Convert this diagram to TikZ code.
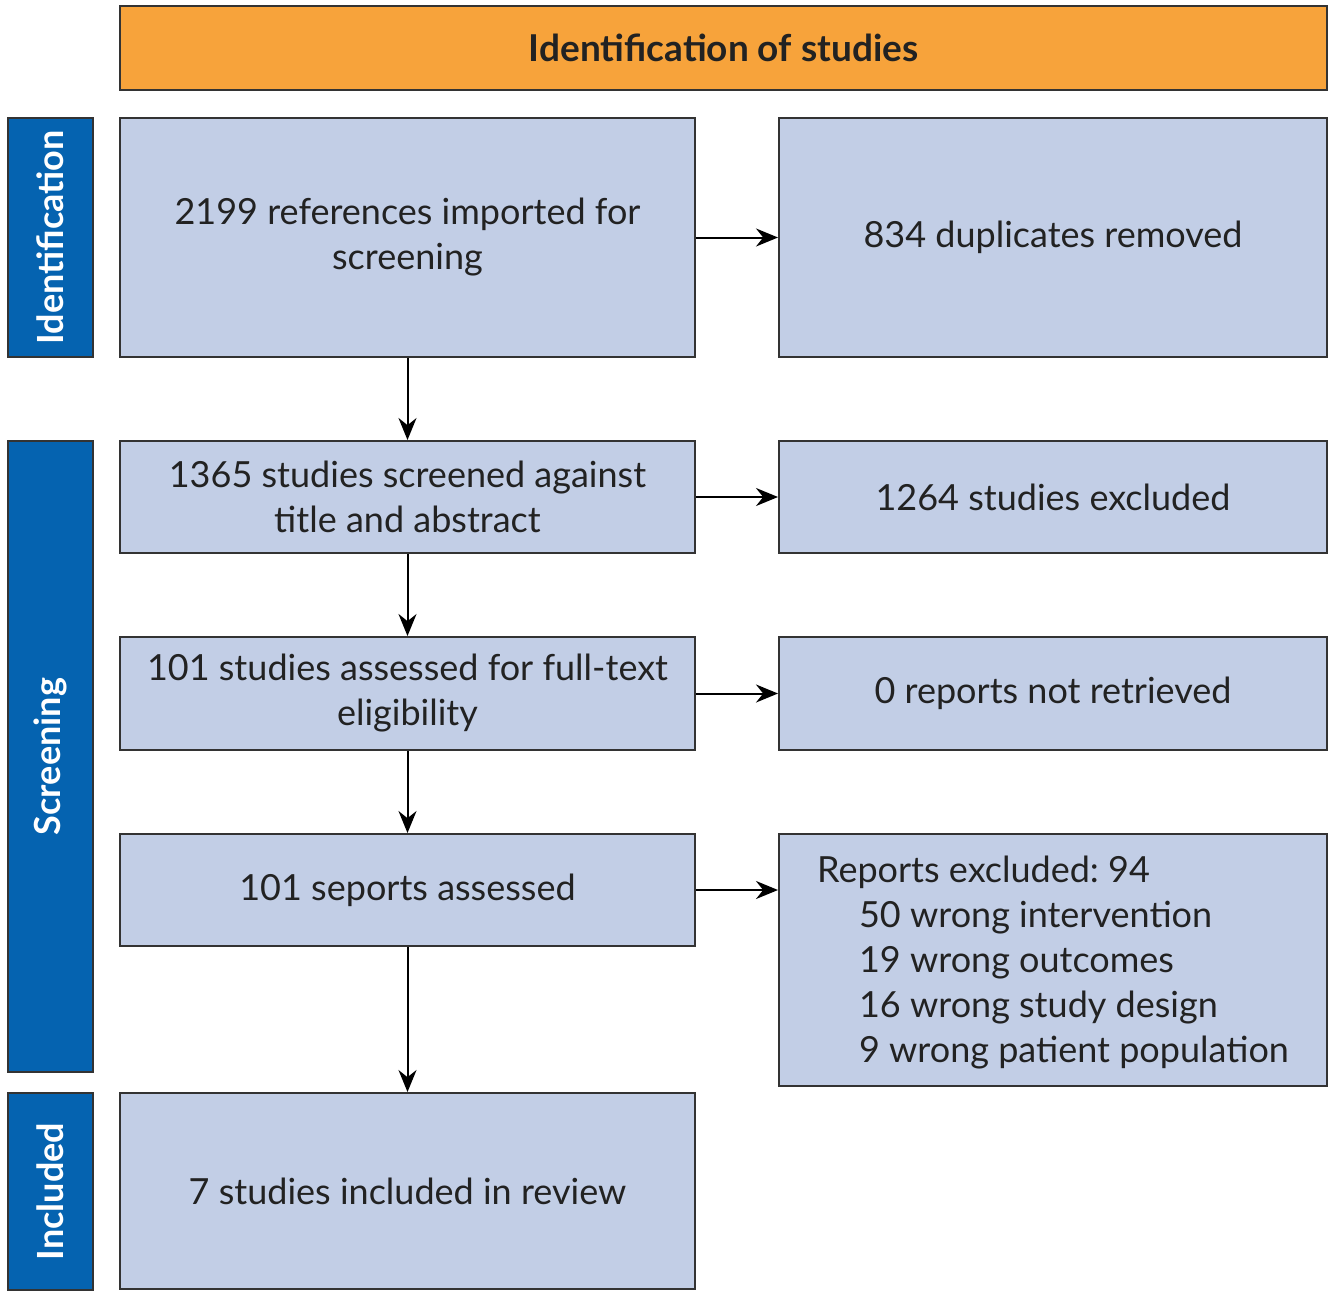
\documentclass[tikz,border=0pt]{standalone}
\usepackage{fontspec}
\setmainfont{Lato}
\usetikzlibrary{arrows.meta}
\frenchspacing
\definecolor{headorange}{HTML}{F7A33B}
\definecolor{sideblue}{HTML}{0563B0}
\definecolor{boxblue}{HTML}{C2CEE6}
\definecolor{edgegray}{HTML}{333333}
\definecolor{textgray}{HTML}{222222}
\begin{document}
\begin{tikzpicture}[x=0.5pt, y=-0.5pt, line width=1pt,
  box/.style={rectangle,draw=edgegray,fill=boxblue,text=textgray,align=center,inner sep=0pt,
    font=\fontsize{18}{22.5}\selectfont},
  side/.style={rectangle,draw=edgegray,fill=sideblue,text=white,rotate=90,inner sep=0pt,
    font=\fontsize{18}{20}\selectfont\bfseries},
  head/.style={rectangle,draw=edgegray,fill=headorange,text=textgray,inner sep=0pt,
    font=\fontsize{18.5}{20}\selectfont\bfseries},
  flow/.style={-{Stealth[length=11pt,width=9pt]},black}]
\useasboundingbox (0,0) rectangle (1337,1290);

\node [head, minimum width=603.5pt, minimum height=42pt] (top) at (723.5,48) {Identification of studies};

\node [side, minimum width=119.5pt, minimum height=42.5pt] (sid) at (50.5,237.5) {Identification};
\node [side, minimum width=315.5pt, minimum height=42.5pt] (sscr) at (50.5,756.5) {Screening};
\node [side, minimum width=98.5pt, minimum height=42.5pt] (sinc) at (50.5,1191.5) {Included};

\node [box, minimum width=287.5pt, minimum height=119.5pt] (imported) at (407.5,237.5) {2199 references imported for\\screening};
\node [box, minimum width=274pt, minimum height=119.5pt] (dupl) at (1053,237.5) {834 duplicates removed};
\node [box, minimum width=287.5pt, minimum height=56pt] (screened) at (407.5,497) {1365 studies screened against\\title and abstract};
\node [box, minimum width=274pt, minimum height=56pt] (excl) at (1053,497) {1264 studies excluded};
\node [box, minimum width=287.5pt, minimum height=56.5pt] (fulltext) at (407.5,693.5) {101 studies assessed for full-text\\eligibility};
\node [box, minimum width=274pt, minimum height=56.5pt] (notretr) at (1053,693.5) {0 reports not retrieved};
\node [box, minimum width=287.5pt, minimum height=56pt] (assessed) at (407.5,890) {101 seports assessed};
\node [box, minimum width=274pt, minimum height=126pt, align=left] (reasons) at (1053,960)
  {\rule{0pt}{15.5pt}Reports excluded: 94\\\hspace*{21pt}50 wrong intervention\\\hspace*{21pt}19 wrong outcomes\\\hspace*{21pt}16 wrong study design\\\hspace*{21pt}9 wrong patient population};
\node [box, minimum width=287.5pt, minimum height=98pt] (included) at (407.5,1191) {7 studies included in review};

\draw [flow] (imported) -- (dupl);
\draw [flow] (screened) -- (excl);
\draw [flow] (fulltext) -- (notretr);
\draw [flow] (assessed.east) -- (reasons.west |- assessed.east);
\draw [flow] (imported) -- (screened);
\draw [flow] (screened) -- (fulltext);
\draw [flow] (fulltext) -- (assessed);
\draw [flow] (assessed) -- (included);
\end{tikzpicture}
\end{document}
